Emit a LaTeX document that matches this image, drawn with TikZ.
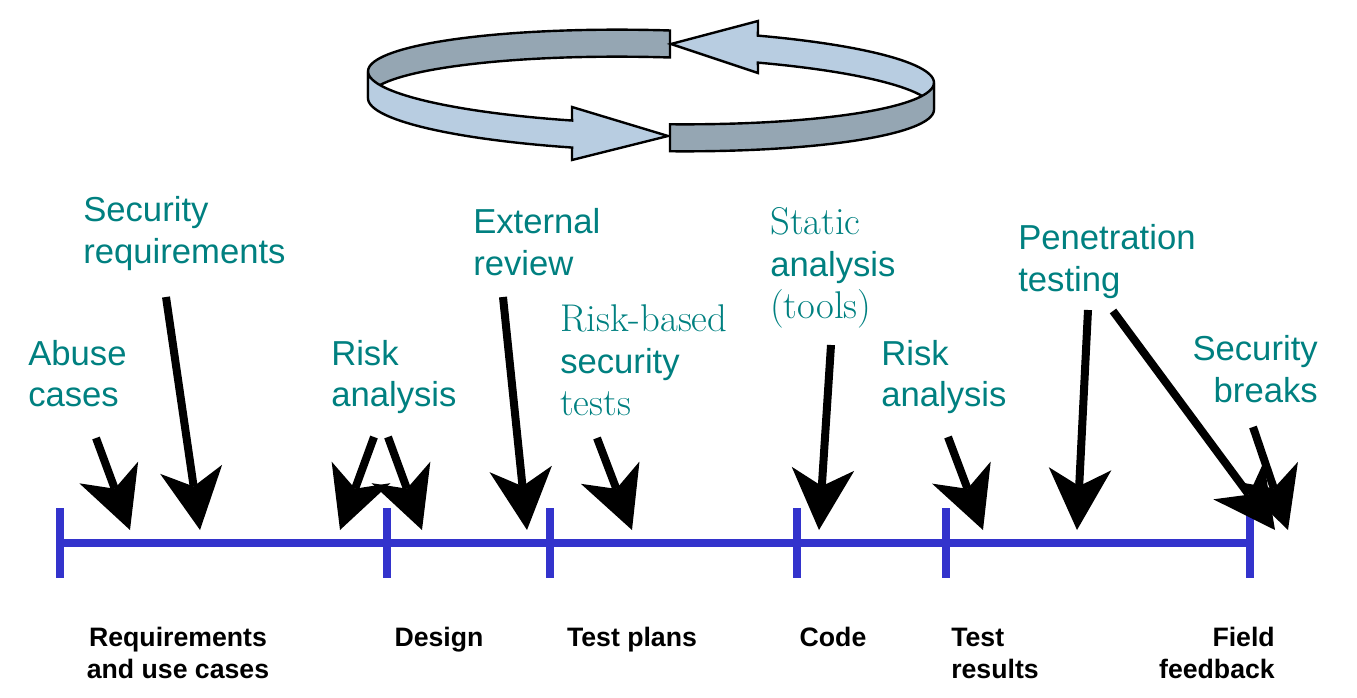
\documentclass[tikz,border=0pt]{standalone}
\usepackage{fontspec}
\newfontfamily\labelfont{Liberation Sans}
\usetikzlibrary{arrows.meta}
\definecolor{ribdark}{RGB}{149,166,179}
\definecolor{riblight}{RGB}{184,205,225}
\definecolor{lineblue}{RGB}{51,51,204}
\newcommand\serifline[1]{{\rmfamily\fontsize{29}{31.5}\selectfont #1}}
\tikzset{
  lbl/.style={text=teal, font=\labelfont\fontsize{26}{31.5}\selectfont, align=left, inner sep=0pt},
  phase/.style={font=\labelfont\bfseries\fontsize{20}{24}\selectfont, align=center, inner sep=0pt},
  pointer/.style={line width=6pt, -{Stealth[length=46pt, width=47pt, inset=13pt, line width=0pt]}},
  ribbon/.style={draw=black, line width=1.8pt, line join=miter},
  timeline/.style={lineblue, line width=5.5pt},
  declare function={ribx(\ang)=651+283*cos(\ang); ribt(\ang)=77+47*sin(\ang)+5.66*cos(\ang); ribb(\ang)=104+47*sin(\ang)+5.66*cos(\ang);}
}
\begin{document}
\begin{tikzpicture}[x=0.75pt,y=-0.75pt]
				\useasboundingbox (0,0) rectangle (1357,698);
				% cycle ribbon, back half first
				\filldraw[ribbon, fill=ribdark] plot[domain=180:273.85, samples=40] ({ribx(\x)},{ribt(\x)}) -- plot[domain=273.85:180, samples=40] ({ribx(\x)},{ribb(\x)}) -- cycle;
				\filldraw[ribbon, fill=riblight] (758,21) -- (671,44) -- (758,73) -- plot[domain=292.2:360, samples=30] ({ribx(\x)},{ribb(\x)}) -- plot[domain=360:292.2, samples=30] ({ribx(\x)},{ribt(\x)}) -- cycle;
				\filldraw[ribbon, fill=riblight] (572,107) -- (668,136) -- (572,160) -- plot[domain=106.2:180, samples=30] ({ribx(\x)},{ribb(\x)}) -- plot[domain=180:106.2, samples=30] ({ribx(\x)},{ribt(\x)}) -- cycle;
				\filldraw[ribbon, fill=ribdark] plot[domain=0:86.15, samples=40] ({ribx(\x)},{ribt(\x)}) -- plot[domain=86.15:0, samples=40] ({ribx(\x)},{ribb(\x)}) -- cycle;
				% timeline
				\coordinate (req) at (60,543);
				\coordinate (design) at (387,543);
				\coordinate (plans) at (550,543);
				\coordinate (code) at (797,543);
				\coordinate (results) at (946,543);
				\coordinate (field) at (1250,543);
				\draw[timeline] (req) -- (field);
				\foreach \t in {req,design,plans,code,results,field}
					\draw[timeline] (\t) ++(0,-35) -- ++(0,70);
				% activities (base = last line)
				\node[lbl, anchor=base west] (abuse) at (28,407) {Abuse\\cases};
				\node[lbl, anchor=base west] (secreq) at (83,264) {Security\\requirements};
				\node[lbl, anchor=base west] (risk1) at (331,407) {Risk\\analysis};
				\node[lbl, anchor=base west] (extrev) at (473,276) {External\\review};
				\node[lbl, anchor=base west] (rbtests) at (560,416) {\serifline{Risk-based}\\security\\\serifline{tests}};
				\node[lbl, anchor=base west] (static) at (770,319) {\serifline{Static}\\analysis\\\serifline{(tools)}};
				\node[lbl, anchor=base west] (risk2) at (881,407) {Risk\\analysis};
				\node[lbl, anchor=base west] (pentest) at (1018,292) {Penetration\\testing};
				\node[lbl, anchor=base east, align=right] (breaks) at (1318,403) {Security\\breaks};
				% pointers
				\coordinate (abuse-s) at (96,438);    \coordinate (abuse-e) at (130,530);
				\coordinate (secreq-s) at (166,297);  \coordinate (secreq-e) at (200,530);
				\coordinate (risk1-s) at (374,437);   \coordinate (risk1-e) at (340,530);
				\coordinate (risk1-s2) at (388,437);  \coordinate (risk1-e2) at (422,530);
				\coordinate (extrev-s) at (503,297);  \coordinate (extrev-e) at (527,530);
				\coordinate (rbtests-s) at (597,438); \coordinate (rbtests-e) at (632,530);
				\coordinate (static-s) at (831,345);  \coordinate (static-e) at (819,530);
				\coordinate (risk2-s) at (948,437);   \coordinate (risk2-e) at (983,530);
				\coordinate (pentest-s) at (1088,310);\coordinate (pentest-e) at (1077,530);
				\coordinate (pentest-s2) at (1113,311);\coordinate (pentest-e2) at (1275,530);
				\coordinate (breaks-s) at (1253,427); \coordinate (breaks-e) at (1288,530);
				\draw[pointer] (abuse-s) -- (abuse-e);
				\draw[pointer] (secreq-s) -- (secreq-e);
				\draw[pointer] (risk1-s) -- (risk1-e);
				\draw[pointer] (risk1-s2) -- (risk1-e2);
				\draw[pointer] (extrev-s) -- (extrev-e);
				\draw[pointer] (rbtests-s) -- (rbtests-e);
				\draw[pointer] (static-s) -- (static-e);
				\draw[pointer] (risk2-s) -- (risk2-e);
				\draw[pointer] (pentest-s) -- (pentest-e);
				\draw[pointer] (pentest-s2) -- (pentest-e2);
				\draw[pointer] (breaks-s) -- (breaks-e);
				% phases
				\node[phase, anchor=base] (reqlbl) at (178,678) {Requirements\\and use cases};
				\node[phase, anchor=base] (designlbl) at (439,646) {Design};
				\node[phase, anchor=base] (planslbl) at (632,646) {Test plans};
				\node[phase, anchor=base] (codelbl) at (833,646) {Code};
				\node[phase, anchor=base west, align=left] (resultslbl) at (951,678) {Test\\results};
				\node[phase, anchor=base east, align=right] (fieldlbl) at (1275,678) {Field\\feedback};
			\end{tikzpicture}
\end{document}
